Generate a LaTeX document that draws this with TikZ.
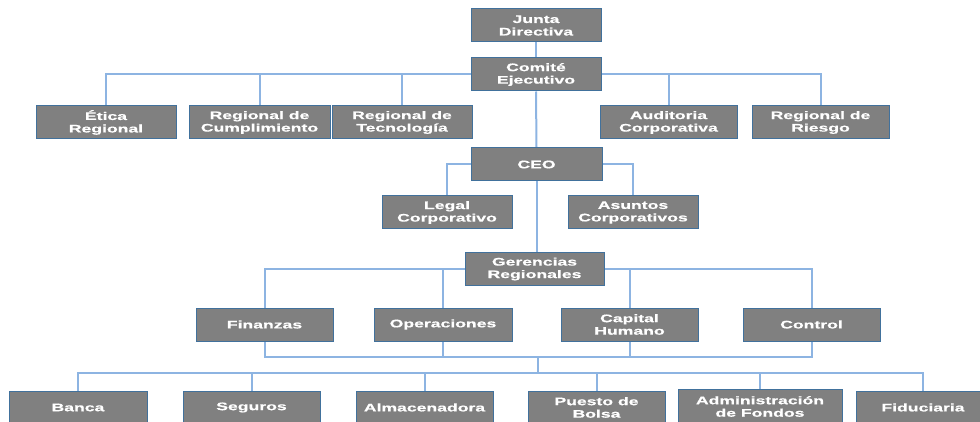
\documentclass[tikz,border=0pt]{standalone}
\usepackage{fontspec}
\newfontfamily\boxfont{Liberation Sans}[FakeStretch=1.6,FakeBold=0.6]
\usetikzlibrary{backgrounds}
\definecolor{boxfill}{HTML}{808080}
\definecolor{boxline}{HTML}{41719C}
\definecolor{connline}{HTML}{8DB4E2}
\tikzset{
  box/.style={draw=boxline, line width=1pt, fill=boxfill, text=white, inner sep=0pt,
    align=center, font=\boxfont\bfseries\fontsize{11}{12.5}\selectfont},
  conn/.style={draw=connline, line width=2pt},
}
\begin{document}
\begin{tikzpicture}[x=1pt, y=-1pt]
\useasboundingbox (0,0) rectangle (980,422);
% row 1
\node[box, minimum width=130pt, minimum height=33pt] (junta) at (536,25.5) {Junta\\Directiva};
\node[box, minimum width=130pt, minimum height=33pt] (comite) at (536,74.5) {Comité\\Ejecutivo};
% row 2
\node[box, minimum width=140pt, minimum height=33pt] (etica) at (106,122.5) {Ética\\Regional};
\node[box, minimum width=141pt, minimum height=33pt] (cumpl) at (259.5,122.5) {Regional de\\Cumplimiento};
\node[box, minimum width=140pt, minimum height=33pt] (tecno) at (402,122.5) {Regional de\\Tecnología};
\node[box, minimum width=137pt, minimum height=33pt] (audit) at (668.5,122.5) {Auditoria\\Corporativa};
\node[box, minimum width=137pt, minimum height=33pt] (riesgo) at (820.5,122.5) {Regional de\\Riesgo};
% CEO
\node[box, minimum width=131pt, minimum height=33pt] (ceo) at (536.5,164.5) {CEO};
\node[box, minimum width=130pt, minimum height=33pt] (legal) at (447,212.5) {Legal\\Corporativo};
\node[box, minimum width=130pt, minimum height=33pt] (asuntos) at (633,212.5) {Asuntos\\Corporativos};
% Gerencias
\node[box, minimum width=139pt, minimum height=32pt] (ger) at (534.5,269) {Gerencias\\Regionales};
\node[box, minimum width=137pt, minimum height=33pt] (fin) at (264.5,324.5) {Finanzas};
\node[box, minimum width=138pt, minimum height=33pt] (oper) at (443,324.5) {Operaciones};
\node[box, minimum width=137pt, minimum height=33pt] (capital) at (629.5,324.5) {Capital\\Humano};
\node[box, minimum width=137pt, minimum height=33pt] (control) at (811.5,324.5) {Control};
% bottom row
\node[box, minimum width=138pt, minimum height=33pt] (banca) at (78,407.5) {Banca};
\node[box, minimum width=137pt, minimum height=33pt] (seguros) at (251.5,407.5) {Seguros};
\node[box, minimum width=137pt, minimum height=33pt] (almac) at (424.5,407.5) {Almacenadora};
\node[box, minimum width=137pt, minimum height=33pt] (puesto) at (596.5,407.5) {Puesto de\\Bolsa};
\node[box, minimum width=164pt, minimum height=35pt] (admin) at (760,406.5) {Administración\\de Fondos};
\node[box, minimum width=134pt, minimum height=33pt] (fidu) at (923,407.5) {Fiduciaria};
\coordinate (busA) at (538,357);
\coordinate (busB) at (538,373);
\begin{scope}[on background layer]
\draw[conn] (junta.south) -- (comite.north);
\draw[conn] (comite.west) -| (etica.north);
\draw[conn] (comite.west) -| (cumpl.north);
\draw[conn] (comite.west) -| (tecno.north);
\draw[conn] (comite.east) -| (audit.north);
\draw[conn] (comite.east) -| (riesgo.north);
\draw[conn] (comite.south) -- (ceo.north);
\draw[conn] (ceo.west) -| (legal.north);
\draw[conn] (ceo.east) -| (asuntos.north);
\draw[conn] (ceo.south) -- (ceo.south |- ger.north);
\draw[conn] (ger.west) -| (fin.north);
\draw[conn] (ger.west) -| (oper.north);
\draw[conn] (ger.east) -| (capital.north);
\draw[conn] (ger.east) -| (control.north);
\draw[conn] (fin.south) |- (busA);
\draw[conn] (oper.south) |- (busA);
\draw[conn] (capital.south) |- (busA);
\draw[conn] (control.south) |- (busA);
\draw[conn] (busA) -- (busB);
\draw[conn] (busB) -| (banca.north);
\draw[conn] (busB) -| (seguros.north);
\draw[conn] (busB) -| (almac.north);
\draw[conn] (busB) -| (puesto.north);
\draw[conn] (busB) -| (admin.north);
\draw[conn] (busB) -| (fidu.north);
\end{scope}
\end{tikzpicture}
\end{document}
